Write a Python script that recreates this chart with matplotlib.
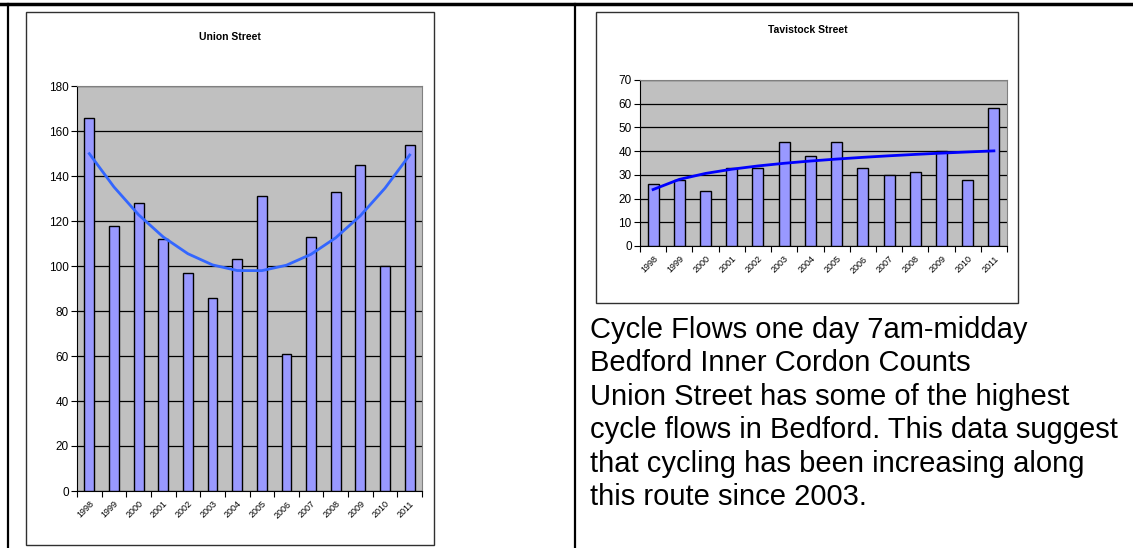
import numpy as np
import matplotlib
matplotlib.use("Agg")
import matplotlib.pyplot as plt
from matplotlib.patches import Rectangle
from matplotlib.lines import Line2D

plt.rcParams['font.family'] = ['Liberation Sans', 'DejaVu Sans']

# -----------------------------------------------------------------------------
# Data
# -----------------------------------------------------------------------------
YEARS = ["1998", "1999", "2000", "2001", "2002", "2003", "2004",
         "2005", "2006", "2007", "2008", "2009", "2010", "2011"]
UNION = [166, 118, 128, 112, 97, 86, 103, 131, 61, 113, 133, 145, 100, 154]
TAVISTOCK = [26, 28, 23, 33, 33, 44, 38, 44, 33, 30, 31, 40, 28, 58]

NOTE_LINES = [
    "Cycle Flows one day 7am-midday",
    "Bedford Inner Cordon Counts",
    "Union Street has some of the highest",
    "cycle flows in Bedford. This data suggest",
    "that cycling has been increasing along",
    "this route since 2003.",
]

W, H = 1133, 548
BAR_COLOR = "#9999FF"
PLOT_BG = "#C0C0C0"


def px_axes(fig, x0, y0, x1, y1):
    """add axes from pixel box (top-left origin)"""
    return fig.add_axes([x0 / W, 1 - y1 / H, (x1 - x0) / W, (y1 - y0) / H])


def excel_bar_chart(ax, values, ymax, step, trend, trend_color, bar_w):
    x = np.arange(len(values))
    ax.set_facecolor(PLOT_BG)
    ax.bar(x, values, width=bar_w, color=BAR_COLOR, edgecolor="black",
           linewidth=1.0, zorder=3)
    ax.plot(x, trend, color=trend_color, linewidth=2.0, zorder=4)
    ax.set_xlim(-0.5, len(values) - 0.5)
    ax.set_ylim(0, ymax)
    ax.set_yticks(np.arange(0, ymax + 1, step))
    ax.yaxis.grid(True, color="black", linewidth=0.9, zorder=1)
    ax.set_axisbelow(True)
    # tick marks between categories, labels at centres
    ax.set_xticks(np.arange(-0.5, len(values), 1.0))
    ax.set_xticklabels([])
    ax.set_xticks(x, minor=True)
    ax.set_xticklabels(YEARS, minor=True, rotation=45, ha="right",
                       rotation_mode="anchor", fontsize=6.5)
    ax.tick_params(axis="x", which="minor", length=0, pad=6)
    ax.tick_params(axis="x", which="major", length=4, direction="out")
    ax.tick_params(axis="y", length=4, labelsize=8.5, pad=2)
    for side in ["top", "right"]:
        ax.spines[side].set_color("#808080")
    ax.spines["left"].set_color("black")
    ax.spines["bottom"].set_color("black")


fig = plt.figure(figsize=(W / 100, H / 100), dpi=100)

# table lines
fig.add_artist(Line2D([0, 1], [1 - 4 / H, 1 - 4 / H], color="black",
                      linewidth=2.5, transform=fig.transFigure))
fig.add_artist(Line2D([8 / W, 8 / W], [0, 1 - 4 / H], color="black",
                      linewidth=1.6, transform=fig.transFigure))
fig.add_artist(Line2D([575 / W, 575 / W], [0, 1 - 4 / H], color="black",
                      linewidth=1.6, transform=fig.transFigure))

# chart frames
fig.add_artist(Rectangle((26 / W, 1 - 545 / H), (434 - 26) / W, (545 - 12) / H,
                         transform=fig.transFigure, facecolor="white",
                         edgecolor="#303030", linewidth=1.0, zorder=0))
fig.add_artist(Rectangle((596 / W, 1 - 303 / H), (1018 - 596) / W, (303 - 12) / H,
                         transform=fig.transFigure, facecolor="white",
                         edgecolor="#303030", linewidth=1.0, zorder=0))

# ── Union Street: 2nd order polynomial trend ─────────────────────────────────
xi = np.arange(len(UNION))
union_trend = np.polyval(np.polyfit(xi, UNION, 2), xi)
ax1 = px_axes(fig, 77, 86, 422, 491)
excel_bar_chart(ax1, UNION, 180, 20, union_trend, "#3366FF", 0.4)
fig.text(230 / W, 1 - 37 / H, "Union Street", ha="center", va="center",
         fontsize=7.5, fontweight="bold")

# ── Tavistock Street: log trend ──────────────────────────────────────────────
xt = np.arange(1, len(TAVISTOCK) + 1)
coef = np.polyfit(np.log(xt), TAVISTOCK, 1)
tav_trend = coef[0] * np.log(xt) + coef[1]
ax2 = px_axes(fig, 640, 80, 1007, 246)
excel_bar_chart(ax2, TAVISTOCK, 70, 10, tav_trend, "#0000FF", 0.42)
fig.text(808 / W, 1 - 30 / H, "Tavistock Street", ha="center", va="center",
         fontsize=7.5, fontweight="bold")

# ── note text ────────────────────────────────────────────────────────────────
for i, line in enumerate(NOTE_LINES):
    fig.text(590 / W, 1 - (338 + 33.4 * i) / H, line, ha="left", va="baseline",
             fontsize=21)

fig.savefig("out.png", dpi=100)
